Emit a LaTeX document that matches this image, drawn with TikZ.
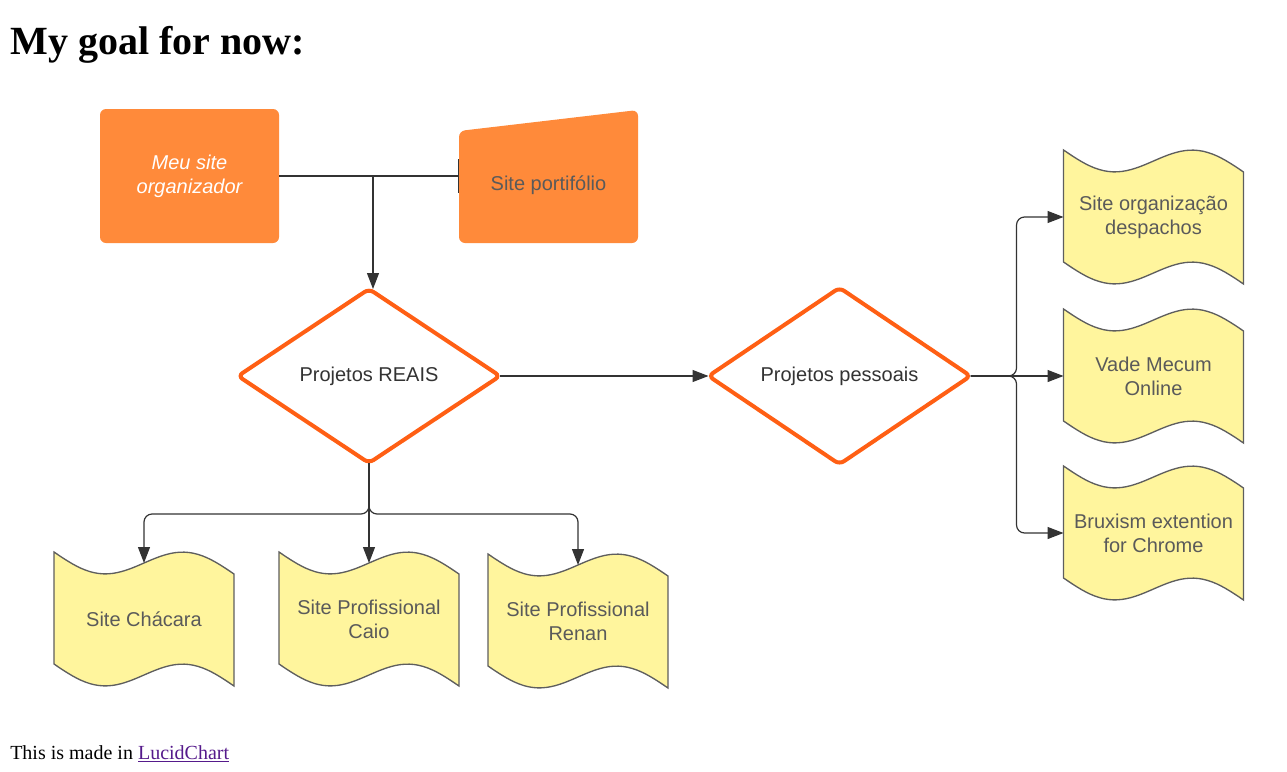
\documentclass[tikz,border=0pt]{standalone}
\usepackage{fontspec}
\setmainfont{Liberation Serif}
\newfontfamily\lucidfont{Liberation Sans}
\usepackage{xcolor}
\usepackage{tikz}
\usetikzlibrary{shapes.geometric,arrows.meta,calc,backgrounds}

\definecolor{boxorange}{HTML}{FF8A3A}
\definecolor{diaorange}{HTML}{FF5F14}
\definecolor{tapeyellow}{HTML}{FFF59D}
\definecolor{tapeline}{HTML}{5E5E5E}
\definecolor{txtgray}{HTML}{5A5A5A}
\definecolor{txtdark}{HTML}{333333}
\definecolor{linkpurple}{HTML}{551A8B}
\definecolor{conncol}{HTML}{333333}

\newcommand\lucidsize{\fontsize{15}{18}\selectfont}

\tikzset{
  orangebox/.style={rectangle,fill=boxorange,rounded corners=4.5pt,minimum width=134.25pt,minimum height=100.5pt,inner sep=0pt,outer sep=0pt,font=\lucidfont\lucidsize,align=center},
  decision/.style={diamond,draw=diaorange,line width=3pt,fill=white,rounded corners=4pt,minimum width=196.5pt,minimum height=130.5pt,inner sep=0pt,outer sep=0pt,text=txtdark,font=\lucidfont\lucidsize},
  tapedoc/.style={rectangle,minimum width=135pt,minimum height=100.5pt,inner sep=0pt,outer sep=0pt,text=txtgray,align=center,font=\lucidfont\lucidsize},
  conn/.style={draw=conncol,line width=0.9pt},
  arr/.style={conn,-{Triangle[length=12pt,width=9pt]}},
}

\begin{document}
\begin{tikzpicture}[x=0.75pt,y=-0.75pt]
 \useasboundingbox (0,0) rectangle (1287,771);
 \node[anchor=base west,inner sep=0pt,font=\bfseries\fontsize{30}{36}\selectfont] (title) at (10,54) {My goal for now:};

 % top boxes
 \node[orangebox,text=white,font=\lucidfont\itshape\lucidsize] (meu) at (189.5,176) {Meu site\\organizador};
 \node[orangebox,fill=none,minimum height=87pt,text=txtgray] (port) at (548.5,185) {Site portif\'olio};

 % decisions
 \node[decision] (reais) at (369,376) {Projetos REAIS};
 \node[decision] (pes) at (839.5,376) {Projetos pessoais};

 % tapes
 \node[tapedoc] (cha) at (144,619) {Site Ch\'acara};
 \node[tapedoc] (caio) at (369,619) {Site Profissional\\Caio};
 \node[tapedoc] (renan) at (578,621) {Site Profissional\\Renan};
 \node[tapedoc] (desp) at (1153.5,217) {Site organiza\c{c}\~ao\\despachos};
 \node[tapedoc] (vade) at (1153.5,376) {Vade Mecum\\Online};
 \node[tapedoc] (brux) at (1153.5,533) {Bruxism extention\\for Chrome};

 \begin{scope}[on background layer]
  \fill[boxorange,rounded corners=4.5pt] (port.south west) -- ($(port.north west)+(0,4)$) -- ($(port.north east)+(0,-17)$) -- (port.south east) -- cycle;
  \foreach \n in {cha,caio,renan,desp,vade,brux}
   \filldraw[fill=tapeyellow,draw=tapeline,line width=1pt,shift={(\n.north west)}]
    plot[domain=0:1,samples=41] ({180*\x},{16*sin(360*\x)+22*\x})
    -- plot[domain=1:0,samples=41] ({180*\x},{112+16*sin(360*\x)+22*\x}) -- cycle;
 \end{scope}

 % connectors
 \coordinate (j) at (373,176);
 \draw[conn,-{Bar[width=25pt]}] (meu.east) -- (meu.east -| port.west);
 \draw[arr] (j) -- (j |- reais.north);
 \draw[arr] (reais.east) -- (pes.west);
 \draw[arr,rounded corners=6pt] (reais.south) -- ++(0,51) -| ($(cha.north)+(0,11)$);
 \draw[arr] (reais.south) -- ($(caio.north)+(0,11)$);
 \draw[arr,rounded corners=6pt] (reais.south) -- ++(0,51) -| ($(renan.north)+(0,11)$);
 \draw[arr,rounded corners=6pt] (pes.east) -- ++(46,0) |- (desp.west);
 \draw[arr] (pes.east) -- (vade.west);
 \draw[arr,rounded corners=6pt] (pes.east) -- ++(46,0) |- (brux.west);

 \node[anchor=base west,inner sep=0pt,font=\fontsize{15}{18}\selectfont] (foot) at (10,759) {This is made in \textcolor{linkpurple}{\underline{LucidChart}}};
\end{tikzpicture}
\end{document}
